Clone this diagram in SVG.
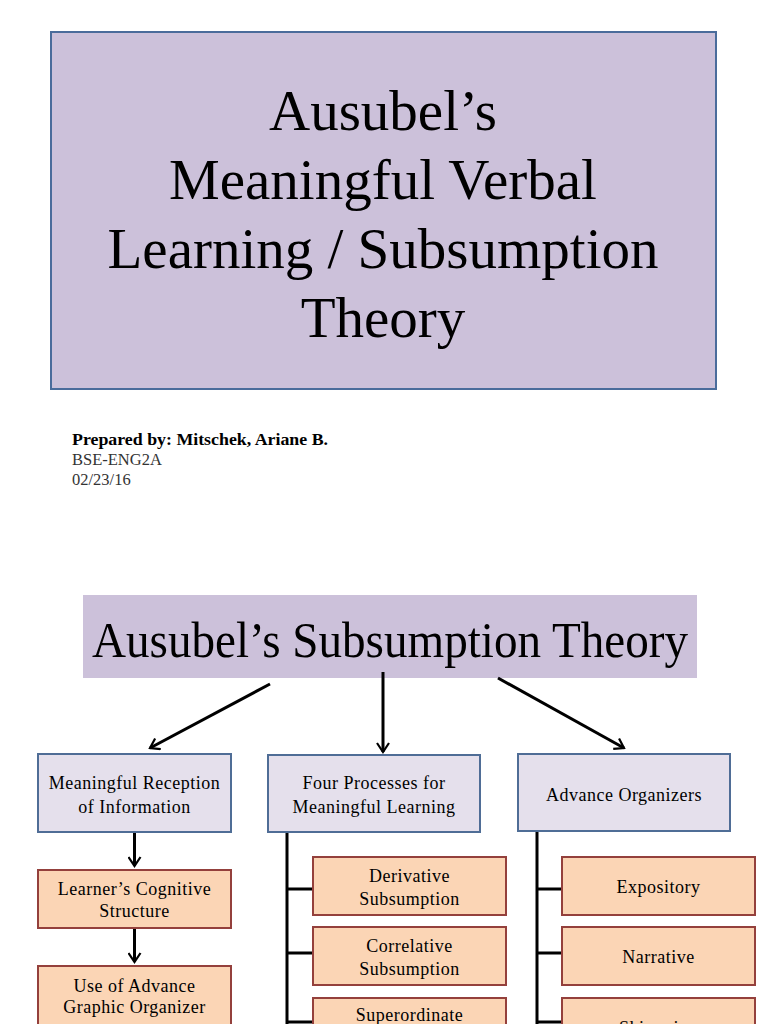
<svg xmlns="http://www.w3.org/2000/svg" width="768" height="1024" viewBox="0 0 768 1024">
<style>
.serif{font-family:"Liberation Serif","Times New Roman",serif;fill:#000}
.big{font-size:57px;text-anchor:middle}
.lav{fill:#E5E0EC;stroke:#4F6D96;stroke-width:2}
.org{fill:#FBD5B5;stroke:#94403C;stroke-width:2}
.lbl{font-size:18px;letter-spacing:0.5px;text-anchor:middle}
.con{fill:none;stroke:#000;stroke-width:3}
.info{font-size:16.5px;fill:#333}
</style>
<defs>
<marker id="ah" viewBox="0 0 12 14" refX="10" refY="7" markerWidth="12" markerHeight="14" markerUnits="userSpaceOnUse" orient="auto">
<path d="M1,1 L10,7 L1,13" fill="none" stroke="#000" stroke-width="2.2"/>
</marker>
</defs>
<rect width="768" height="1024" fill="#fff"/>

<g id="cover-title">
<rect x="51" y="32" width="665" height="357" fill="#CCC1DA" stroke="#4A6C9B" stroke-width="2"/>
<text class="serif big" x="383" y="130">Ausubel’s</text>
<text class="serif big" x="383" y="199">Meaningful Verbal</text>
<text class="serif big" x="383" y="268">Learning / Subsumption</text>
<text class="serif big" x="383" y="337">Theory</text>
</g>

<g id="credits">
<text class="serif" x="72" y="445" font-size="17" font-weight="bold" textLength="256" lengthAdjust="spacingAndGlyphs" fill="#111">Prepared by: Mitschek, Ariane B.</text>
<text class="serif info" x="72" y="465">BSE-ENG2A</text>
<text class="serif info" x="72" y="485">02/23/16</text>
</g>

<g id="main-title">
<rect x="83" y="595" width="614" height="83" fill="#CCC1DA"/>
<text class="serif" x="92" y="657" font-size="50" textLength="596" lengthAdjust="spacingAndGlyphs">Ausubel’s Subsumption Theory</text>
</g>

<g id="connectors">
<line class="con" x1="270" y1="684" x2="150" y2="748" marker-end="url(#ah)"/>
<line class="con" x1="383" y1="672" x2="383" y2="752" stroke-width="2" marker-end="url(#ah)"/>
<line class="con" x1="498" y1="678" x2="624" y2="748" marker-end="url(#ah)"/>
<line class="con" x1="134.5" y1="832" x2="134.5" y2="866" marker-end="url(#ah)"/>
<line class="con" x1="134.5" y1="928" x2="134.5" y2="962" marker-end="url(#ah)"/>
<path class="con" d="M287,832 V1024 M287,889 H313 M287,953 H313 M287,1022 H313"/>
<path class="con" d="M537,831 V1024 M537,889 H562 M537,953 H562 M537,1022 H562"/>
</g>

<g id="meaningful-reception">
<rect class="lav" x="38" y="754" width="193" height="78"/>
<text class="serif lbl" x="134.5" y="789">Meaningful Reception</text>
<text class="serif lbl" x="134.5" y="813">of Information</text>
</g>
<g id="four-processes">
<rect class="lav" x="268" y="755" width="212" height="77"/>
<text class="serif lbl" x="374" y="789">Four Processes for</text>
<text class="serif lbl" x="374" y="813">Meaningful Learning</text>
</g>
<g id="advance-organizers">
<rect class="lav" x="518" y="754" width="212" height="77"/>
<text class="serif lbl" x="624" y="801">Advance Organizers</text>
</g>

<g id="cognitive-structure">
<rect class="org" x="38" y="870" width="193" height="58"/>
<text class="serif lbl" x="134.5" y="895">Learner’s Cognitive</text>
<text class="serif lbl" x="134.5" y="917">Structure</text>
</g>
<g id="graphic-organizer">
<rect class="org" x="38" y="966" width="193" height="70"/>
<text class="serif lbl" x="134.5" y="992">Use of Advance</text>
<text class="serif lbl" x="134.5" y="1013">Graphic Organizer</text>
</g>

<g id="derivative">
<rect class="org" x="313" y="857" width="193" height="58"/>
<text class="serif lbl" x="409.5" y="882">Derivative</text>
<text class="serif lbl" x="409.5" y="905">Subsumption</text>
</g>
<g id="correlative">
<rect class="org" x="313" y="927" width="193" height="58"/>
<text class="serif lbl" x="409.5" y="952">Correlative</text>
<text class="serif lbl" x="409.5" y="975">Subsumption</text>
</g>
<g id="superordinate">
<rect class="org" x="313" y="998" width="193" height="58"/>
<text class="serif lbl" x="409.5" y="1021">Superordinate</text>
</g>

<g id="expository">
<rect class="org" x="562" y="857" width="193" height="58"/>
<text class="serif lbl" x="658.5" y="893">Expository</text>
</g>
<g id="narrative">
<rect class="org" x="562" y="927" width="193" height="58"/>
<text class="serif lbl" x="658.5" y="963">Narrative</text>
</g>
<g id="skimming">
<rect class="org" x="562" y="998" width="193" height="58"/>
<text class="serif lbl" x="658.5" y="1034">Skimming</text>
</g>
</svg>
